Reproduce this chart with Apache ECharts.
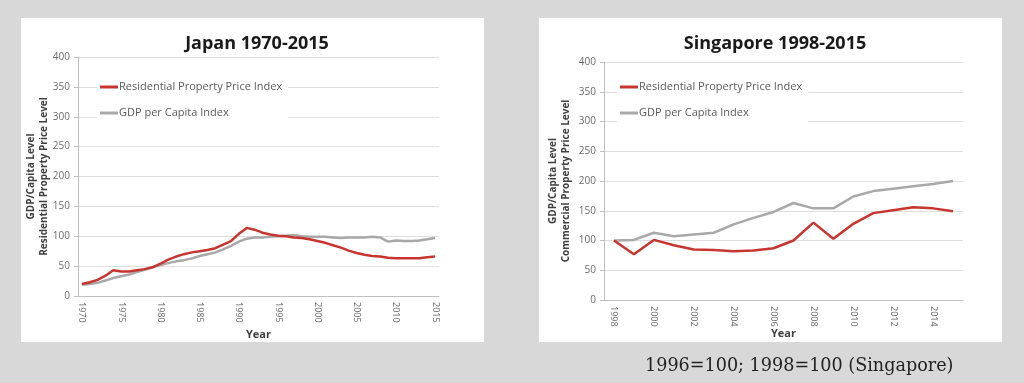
<!DOCTYPE html>
<html><head><meta charset="utf-8">
<script src="https://cdn.jsdelivr.net/npm/echarts@6/dist/echarts.min.js"></script>
<style>html,body{margin:0;padding:0;background:#d8d8d8}#c{width:1024px;height:383px}</style>
</head><body><div id="c"></div>
<script>
const jpYears = [];
for (let y = 1970; y <= 2015; y++) jpYears.push(String(y));
const jpResidential = [20,23,27,34,43,41,41,43,45,48,54,61,66,70,73,75,77,80,86,92,104,114,111,106,103,101,100,98,97,95,92,89,85,81,76,72,69,67,66,64,63,63,63,63,65,66];
const jpGdp = [19,20,22,26,30,33,36,40,44,48,52,55,58,60,63,67,70,73,78,84,91,96,98,98,99,100,101,102,100,99,99,99,98,97,98,98,98,99,98,91,93,92,92,93,95,97];
const sgYears = [];
for (let y = 1998; y <= 2015; y++) sgYears.push(String(y));
const sgResidential = [100,77,101,92,85,84,82,83,87,100,130,103,128,146,151,156,154,149];
const sgGdp = [100,101,113,107,110,113,127,138,148,163,154,154,174,183,187,191,195,200];
const yTicks = {min:0, max:400, interval:50};
const names = ['Residential Property Price Index','GDP per Capita Index'];

const RED = '#c8352f', GRAY = '#a8a8a8';
const chart = echarts.init(document.getElementById('c'));
function xAxis(idx, data, interval, gap){
  return {type:'category', gridIndex:idx, data:data, boundaryGap:true,
    name:'Year', nameLocation:'middle', nameGap:gap, nameMoveOverlap:false,
    nameTextStyle:{fontFamily:'Open Sans', fontWeight:'bold', fontSize:11, color:'#404040'},
    axisLine:{lineStyle:{color:'#bfbfbf'}},
    axisTick:{interval:interval, lineStyle:{color:'#bfbfbf'}, length:4},
    axisLabel:{interval:interval, rotate:-90, fontFamily:'Open Sans', fontSize:9, color:'#666', margin:6}};
}
function yAxis(idx, name, gap){
  return {type:'value', gridIndex:idx, min:yTicks.min, max:yTicks.max, interval:yTicks.interval,
    name:name, nameLocation:'middle', nameGap:gap, nameRotate:90, nameMoveOverlap:false,
    nameTextStyle:{fontFamily:'Open Sans', fontWeight:'bold', fontSize:10, color:'#404040', lineHeight:13, align:'center'},
    axisLine:{show:true, lineStyle:{color:'#bfbfbf'}},
    axisTick:{show:true, length:4, lineStyle:{color:'#bfbfbf'}},
    splitLine:{lineStyle:{color:'#dedede'}},
    axisLabel:{fontFamily:'Open Sans', fontSize:10, color:'#6a6a6a', margin:8}};
}
function legend(left, top){
  return {orient:'vertical', left:left, top:top, itemGap:12, itemWidth:18, itemHeight:3, icon:'rect',
    backgroundColor:'#fff', padding:[4,6,4,3],
    data:names,
    textStyle:{fontFamily:'Open Sans', fontSize:11, color:'#5a5a5a', padding:[0,0,0,-4], lineHeight:14},
    selectedMode:false};
}
function line(name, x, y, data, color){
  return {type:'line', name:name, xAxisIndex:x, yAxisIndex:y, data:data, symbol:'none',
    lineStyle:{color:color, width:2.5}, itemStyle:{color:color}, z: color===RED?3:2};
}
chart.setOption({
  backgroundColor:'#d8d8d8',
  animation:false,
  graphic:[
    {type:'rect', z:-100, shape:{x:21, y:18, width:463, height:324}, style:{fill:'#fff'}},
    {type:'rect', z:-100, shape:{x:539, y:18, width:463, height:324}, style:{fill:'#fff'}},
    {type:'text', left:645, top:357, style:{text:'1996=100; 1998=100 (Singapore)', font:'17.6px "DejaVu Serif"', fill:'#222'}}
  ],
  title:[
    {text:'Japan 1970-2015', left:252, top:30, textAlign:'center', textStyle:{fontFamily:'Open Sans', fontWeight:'bold', fontSize:18, color:'#1a1a1a'}},
    {text:'Singapore 1998-2015', left:770, top:30, textAlign:'center', textStyle:{fontFamily:'Open Sans', fontWeight:'bold', fontSize:18, color:'#1a1a1a'}}
  ],
  legend:[legend(97, 76), legend(617, 76)],
  grid:[
    {left:78, right:585, top:57, bottom:87},
    {left:604, right:61, top:62, bottom:83}
  ],
  xAxis:[xAxis(0, jpYears, 4, 33), xAxis(1, sgYears, 1, 28)],
  yAxis:[yAxis(0, 'GDP/Capita Level\nResidential Property Price Level', 27), yAxis(1, 'GDP/Capita Level\nCommercial Property Price Level', 31)],
  series:[
    line(names[1], 0, 0, jpGdp, GRAY),
    line(names[0], 0, 0, jpResidential, RED),
    line(names[1], 1, 1, sgGdp, GRAY),
    line(names[0], 1, 1, sgResidential, RED)
  ]
});
</script></body></html>
